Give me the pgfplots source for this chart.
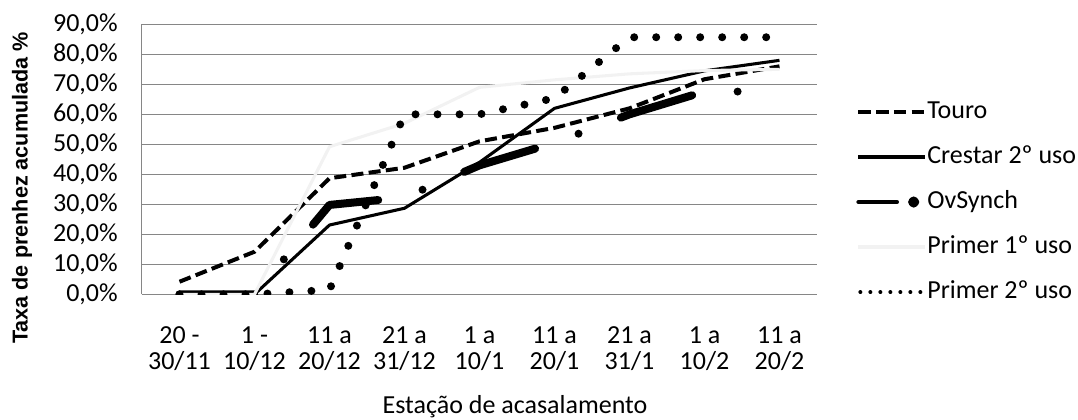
\documentclass[border=0pt]{standalone}
\usepackage{pgfplots}
\pgfplotsset{compat=1.18}
\usepackage{pgfplotstable}
\usepackage{fontspec}
\setmainfont{Carlito}
\newfontfamily\labfont{Liberation Sans}
\definecolor{gridgray}{RGB}{134,134,134}
\definecolor{lightline}{RGB}{242,242,242}

\pgfplotstableread{
x touro crestar ovsynch primerA primerB
0 4.2  0    0    0    0
1 14.2 0    0    0    0
2 38.7 23.1 29.8 49.2 1.5
3 42.2 28.7 32.3 57.0 60.0
4 51.0 44.0 43.0 69.0 60.0
5 55.5 62.0 50.5 71.5 65.4
6 62.0 68.8 60.0 73.5 85.7
7 71.7 74.5 67.6 74.6 85.7
8 76.0 78.0 67.6 75.0 85.7
}\datatable

\begin{document}
\begin{tikzpicture}
\useasboundingbox (0,0) rectangle (808.5pt,314.25pt);
\begin{axis}[
  at={(106.5pt,93.5pt)}, anchor=south west,
  scale only axis, width=506.25pt, height=202.5pt,
  xmin=-0.5, xmax=8.5, ymin=0, ymax=90,
  xtick={0,...,8},
  xticklabels={{20 -\\30/11},{1 -\\10/12},{11 a\\20/12},{21 a\\31/12},{1 a\\10/1},{11 a\\20/1},{21 a\\31/1},{1 a\\10/2},{11 a\\20/2}},
  ytick={0,10,...,90},
  yticklabels={{0,0\%},{10,0\%},{20,0\%},{30,0\%},{40,0\%},{50,0\%},{60,0\%},{70,0\%},{80,0\%},{90,0\%}},
  ymajorgrids, grid style={gridgray, line width=0.75pt},
  axis x line*=bottom, axis y line*=left,
  axis line style={-, gridgray, line width=0.75pt},
  major tick length=0pt,
  yticklabel style={font=\fontsize{19.5}{23}\selectfont, inner sep=0pt, xshift=-18pt},
  xticklabel style={font=\fontsize{19.5}{19.5}\selectfont, align=center, inner sep=0pt, yshift=-24pt},
  xlabel={Estação de acasalamento},
  xlabel style={font=\fontsize{19.5}{23}\selectfont, at={(axis description cs:0.5526,-0.443)}, anchor=base},
  ylabel={Taxa de prenhez acumulada \%},
  ylabel style={font=\labfont\bfseries\fontsize{16.2}{19}\selectfont, at={(axis description cs:-0.1778,0.394)}, anchor=center},
  legend style={draw=none, fill=none, inner sep=0pt, outer sep=0pt,
    at={(axis description cs:1.0578,0.3419)}, anchor=west,
    font=\fontsize{19.5}{23}\selectfont,
    nodes={inner sep=0pt, text height=13pt, text depth=4pt},
    row sep=16.75pt,
    /tikz/every even column/.append style={column sep=8.25pt}},
  legend cell align=left,
]
\addplot[black, line width=3pt, line join=round, dash pattern=on 9pt off 4pt,
  legend image code/.code={\draw[black, line width=3pt, dash pattern=on 9.5pt off 3.8pt] (0pt,0pt) -- (50pt,0pt);}]
  table[x=x, y=touro]{\datatable};
\addlegendentry{Touro}
\addplot[black, line width=2.3pt, line join=round,
  legend image code/.code={\draw[black, line width=3pt] (0pt,0pt) -- (50pt,0pt);}]
  table[x=x, y=crestar]{\datatable};
\addlegendentry{Crestar 2º uso}
\addplot[black, line width=6pt, line join=round, line cap=round, dash pattern=on 56pt off 34.5pt on 0pt off 34pt,
  legend image code/.code={\draw[black, solid, line width=3pt] (0pt,0pt) -- (29pt,0pt); \fill[black] (41.5pt,0pt) circle (1.2pt);}]
  table[x=x, y=ovsynch]{\datatable};
\addlegendentry{OvSynch}
\addplot[lightline, line width=2.3pt, line join=round,
  legend image code/.code={\draw[lightline, line width=3.5pt] (0pt,0pt) -- (50pt,0pt);}]
  table[x=x, y=primerA]{\datatable};
\addlegendentry{Primer 1º uso}
\addplot[black, line width=6pt, line join=round, line cap=round, dash pattern=on 0pt off 16.5pt,
  legend image code/.code={\draw[black, line width=3pt, line cap=round, dash pattern=on 0pt off 7.5pt] (1.5pt,0pt) -- (50pt,0pt);}]
  table[x=x, y=primerB]{\datatable};
\addlegendentry{Primer 2º uso}
\end{axis}
\end{tikzpicture}
\end{document}
